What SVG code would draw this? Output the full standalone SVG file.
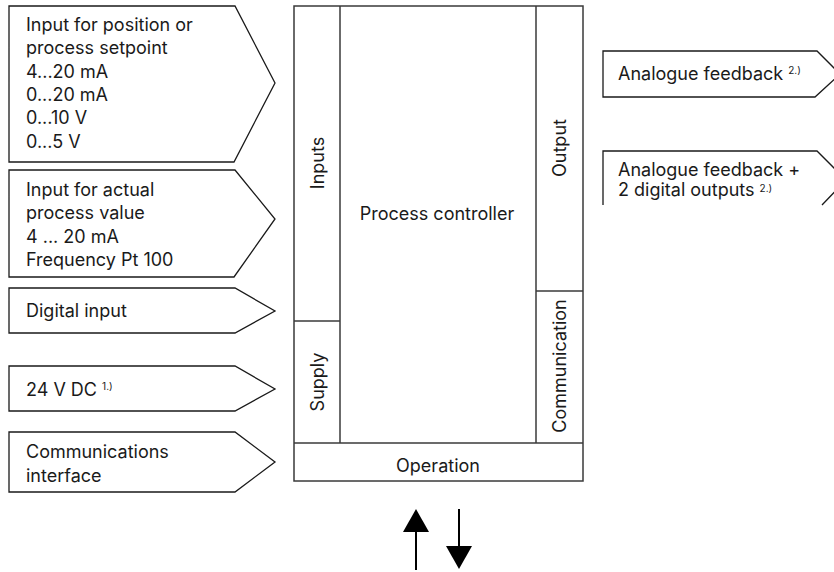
<svg xmlns="http://www.w3.org/2000/svg" width="834" height="572" viewBox="0 0 834 572">
<style>
.sh{fill:#fff;stroke:#1a1a1a;stroke-width:1.3;stroke-linejoin:miter}
.bx{fill:none;stroke:#3a3a3a;stroke-width:1.5}
.t{font-family:Inter,"Noto Sans","Liberation Sans",sans-serif;font-size:18px;fill:#1a1a1a}
.c{text-anchor:middle;dominant-baseline:central}
.sup{font-size:10px}
.ar{stroke:#000;stroke-width:2}
</style>
<rect width="834" height="572" fill="#fff"/>
<g id="in-setpoint">
<path class="sh" d="M9,6 L235,6 L275,83 L234,162 L9,162 Z"/>
<text class="t" x="26" y="31">Input for position or</text>
<text class="t" x="26" y="54.3">process setpoint</text>
<text class="t" x="26" y="77.6">4...20 mA</text>
<text class="t" x="26" y="101">0...20 mA</text>
<text class="t" x="26" y="124.3">0...10 V</text>
<text class="t" x="26" y="147.6">0...5 V</text>
</g>
<g id="in-actual">
<path class="sh" d="M9,170 L235,170 L275,219 L234,277 L9,277 Z"/>
<text class="t" x="26" y="196">Input for actual</text>
<text class="t" x="26" y="219.3">process value</text>
<text class="t" x="26" y="242.6">4 ... 20 mA</text>
<text class="t" x="26" y="266">Frequency Pt 100</text>
</g>
<g id="in-digital">
<path class="sh" d="M9,288 L235,288 L275,311 L235,333 L9,333 Z"/>
<text class="t" x="26" y="317">Digital input</text>
</g>
<g id="in-supply">
<path class="sh" d="M9,366 L235,366 L275,389 L235,411 L9,411 Z"/>
<text class="t" x="26" y="396">24 V DC <tspan class="sup" dy="-6">1.)</tspan></text>
</g>
<g id="in-comm">
<path class="sh" d="M9,432 L235,432 L275,462 L235,492 L9,492 Z"/>
<text class="t" x="26" y="458">Communications</text>
<text class="t" x="26" y="481.5">interface</text>
</g>
<g id="controller">
<rect class="bx" x="294" y="6" width="289" height="475"/>
<line class="bx" x1="294" y1="443" x2="583" y2="443"/>
<line class="bx" x1="340" y1="6" x2="340" y2="443"/>
<line class="bx" x1="536" y1="6" x2="536" y2="443"/>
<line class="bx" x1="294" y1="321" x2="340" y2="321"/>
<line class="bx" x1="536" y1="291" x2="583" y2="291"/>
<text class="t c" x="437" y="213">Process controller</text>
<text class="t c" transform="translate(317,163) rotate(-90)">Inputs</text>
<text class="t c" transform="translate(317,382) rotate(-90)">Supply</text>
<text class="t c" transform="translate(559,148) rotate(-90)">Output</text>
<text class="t c" transform="translate(559,366) rotate(-90)">Communication</text>
<text class="t c" x="438" y="465">Operation</text>
</g>
<g id="out-analogue">
<path class="sh" d="M603,51 L817,51 L840,74 L815,97 L603,97 Z"/>
<text class="t" x="618" y="80">Analogue feedback <tspan class="sup" dy="-6">2.)</tspan></text>
</g>
<g id="out-analogue-digital">
<path class="sh" d="M603,205 L603,151 L817,151 L846,180 L822,205"/>
<text class="t" x="618" y="176">Analogue feedback +</text>
<text class="t" x="618" y="196">2 digital outputs <tspan class="sup" dy="-4.5">2.)</tspan></text>
</g>
<g id="connectors">
<line class="ar" x1="416" y1="570" x2="416" y2="528"/>
<polygon points="403,532 429,532 416,509" fill="#000"/>
<line class="ar" x1="459" y1="509" x2="459" y2="550"/>
<polygon points="446,546 472,546 459,569" fill="#000"/>
</g>
</svg>
